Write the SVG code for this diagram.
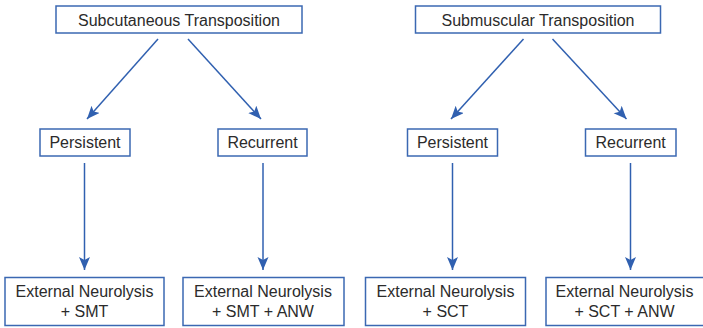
<svg xmlns="http://www.w3.org/2000/svg" width="703" height="328" viewBox="0 0 703 328">
<style>
.box{fill:#fff;stroke:#3b68b2;stroke-width:1.5}
.t{font-family:"Liberation Sans",Arial,sans-serif;font-size:16px;fill:#2b2b2b;text-anchor:middle}
.c{stroke:#3060b0;stroke-width:1.5;fill:none;marker-end:url(#ah)}
</style>
<defs>
<marker id="ah" markerUnits="userSpaceOnUse" markerWidth="14" markerHeight="12" refX="13" refY="5.5" orient="auto">
<path d="M0,0 L13,5.5 L0,11 L3,5.5 z" fill="#3060b0"/>
</marker>
</defs>
<rect width="703" height="328" fill="#fff"/>
<g id="connectors">
<line class="c" x1="158" y1="39" x2="87" y2="119"/>
<line class="c" x1="188" y1="39" x2="261" y2="119"/>
<line class="c" x1="84.5" y1="163" x2="84.5" y2="270"/>
<line class="c" x1="263" y1="163" x2="263" y2="270"/>
<line class="c" x1="523.5" y1="39" x2="451" y2="119"/>
<line class="c" x1="552.5" y1="39" x2="626.5" y2="119"/>
<line class="c" x1="452.5" y1="163" x2="452.5" y2="270"/>
<line class="c" x1="630.5" y1="163" x2="630.5" y2="270"/>
</g>
<g id="subcut"><rect class="box" x="56" y="6" width="246" height="27"/><text class="t" x="179" y="25.5">Subcutaneous Transposition</text></g>
<g id="submusc"><rect class="box" x="415.5" y="6" width="245" height="27"/><text class="t" x="538" y="25.5">Submuscular Transposition</text></g>
<g id="pers1"><rect class="box" x="40" y="129" width="90" height="27"/><text class="t" x="85" y="148">Persistent</text></g>
<g id="rec1"><rect class="box" x="218" y="129" width="89" height="27"/><text class="t" x="262.5" y="148">Recurrent</text></g>
<g id="pers2"><rect class="box" x="407.5" y="129" width="90" height="27"/><text class="t" x="452.5" y="148">Persistent</text></g>
<g id="rec2"><rect class="box" x="585.5" y="129" width="90.5" height="27"/><text class="t" x="630.7" y="148">Recurrent</text></g>
<g id="out1"><rect class="box" x="5" y="277.5" width="159" height="48"/><text class="t" x="84.5" y="297">External Neurolysis</text><text class="t" x="84.5" y="316.5">+ SMT</text></g>
<g id="out2"><rect class="box" x="183" y="277.5" width="161" height="48"/><text class="t" x="263" y="297">External Neurolysis</text><text class="t" x="263" y="316.5">+ SMT + ANW</text></g>
<g id="out3"><rect class="box" x="365.5" y="277.5" width="160" height="48"/><text class="t" x="445.5" y="297">External Neurolysis</text><text class="t" x="445.5" y="316.5">+ SCT</text></g>
<g id="out4"><rect class="box" x="546" y="277.5" width="160" height="48"/><text class="t" x="624.5" y="297">External Neurolysis</text><text class="t" x="624.5" y="316.5">+ SCT + ANW</text></g>
</svg>
